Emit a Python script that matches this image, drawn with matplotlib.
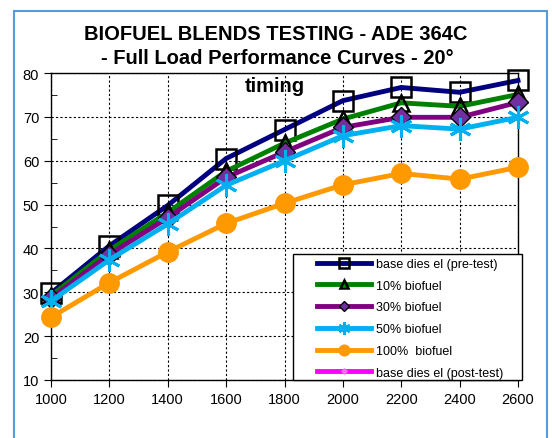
import numpy as np
import matplotlib
matplotlib.use("Agg")
import matplotlib.pyplot as plt
from matplotlib.patches import Rectangle
from matplotlib.ticker import MultipleLocator

plt.rcParams['font.family'] = ['Liberation Sans', 'DejaVu Sans']

# engine speed (rpm)
rpm = [1000, 1200, 1400, 1600, 1800, 2000, 2200, 2400, 2600]

# readings for each fuel
base_pre = [29.8, 40.6, 49.8, 60.5, 67.1, 73.7, 76.7, 75.6, 78.3]
bio10 = [29.2, 39.6, 48.2, 57.6, 64.0, 69.5, 73.2, 72.4, 75.1]
bio30 = [28.6, 38.6, 47.0, 56.2, 62.0, 67.6, 69.9, 69.9, 73.3]
bio50 = [28.0, 37.4, 45.6, 54.4, 60.0, 65.7, 68.0, 67.2, 69.9]
bio100 = [24.3, 32.2, 39.2, 45.7, 50.3, 54.5, 57.1, 55.8, 58.5]
base_post = [np.nan] * 9  # no data shown

labels = ["base dies el (pre-test)", "10% biofuel", "30% biofuel",
          "50% biofuel", "100%  biofuel", "base dies el (post-test)"]

W, H = 552, 439
fig = plt.figure(figsize=(5.52, 4.39), dpi=100)
ax = fig.add_axes([51 / W, 1 - 381 / H, 467 / W, 307 / H])

# outer chart border
fig.patches.append(Rectangle((14 / W, -0.05), 533 / W, 1 - 12 / H + 0.05,
                             transform=fig.transFigure, fill=False,
                             edgecolor='#5B9BD5', linewidth=1.5))

ax.plot(rpm, base_pre, color='#000080', lw=3.5, marker='s', ms=14,
        mfc='none', mec='black', mew=1.8, label=labels[0], zorder=3, clip_on=False)
ax.plot(rpm, bio10, color='#008000', lw=3.5, marker='^', ms=11,
        mfc='none', mec='black', mew=1.8, label=labels[1], zorder=4, clip_on=False)
ax.plot(rpm, bio30, color='#800080', lw=3.5, marker='D', ms=10,
        mfc='#7030A0', mec='black', mew=1.0, label=labels[2], zorder=5, clip_on=False)
ax.plot(rpm, bio50, color='#00B0F0', lw=3.5, marker=(6, 2, 0), ms=16,
        mec='#00B0F0', mew=2.2, label=labels[3], zorder=6, clip_on=False)
ax.plot(rpm, bio100, color='#FF9900', lw=3.5, marker='o', ms=14,
        mfc='#FF9900', mec='#FF9900', label=labels[4], zorder=7, clip_on=False)
ax.plot(rpm, base_post, color='#FF00FF', lw=3.5, marker='D', ms=5,
        mfc='#FF66FF', mec='#FF66FF', label=labels[5])

ax.set_xlim(1000, 2600)
ax.set_ylim(10, 80)
ax.set_xticks(rpm)
ax.yaxis.set_major_locator(MultipleLocator(10))
ax.yaxis.set_minor_locator(MultipleLocator(5))
ax.tick_params(axis='y', which='major', direction='out', length=5, labelsize=10.5)
ax.tick_params(axis='y', which='minor', direction='in', length=4)
ax.tick_params(axis='x', direction='out', length=5, labelsize=10.5)
ax.grid(True, which='major', color='black', linestyle=(0, (2, 2)), linewidth=0.8)
for s in ax.spines.values():
    s.set_linewidth(1.0)

tkw = dict(ha='center', va='center', fontsize=14.5, fontweight='bold', zorder=10)
fig.text(276 / W, 1 - 34 / H, "BIOFUEL BLENDS TESTING - ADE 364C", **tkw)
fig.text(277 / W, 1 - 59 / H, "- Full Load Performance Curves - 20°", **tkw)
fig.text(275 / W, 1 - 86 / H, "timing", **tkw)

# legend box drawn separately so the entries can sit inset like the original
fig.patches.append(Rectangle((293 / W, 1 - 381 / H), 229 / W, 126 / H,
                             transform=fig.transFigure, facecolor='white',
                             edgecolor='black', linewidth=1.0, zorder=19))
leg = ax.legend(loc='upper left', bbox_to_anchor=(317 / W, 1 - 259 / H),
                bbox_transform=fig.transFigure, fontsize=9, frameon=False,
                markerscale=0.55, handlelength=4.3, labelspacing=0.78,
                handletextpad=0.4, borderpad=0, borderaxespad=0)
leg.set_zorder(20)
fig.legends.append(leg)
ax.get_legend().remove()

fig.savefig("out.png", dpi=100)
